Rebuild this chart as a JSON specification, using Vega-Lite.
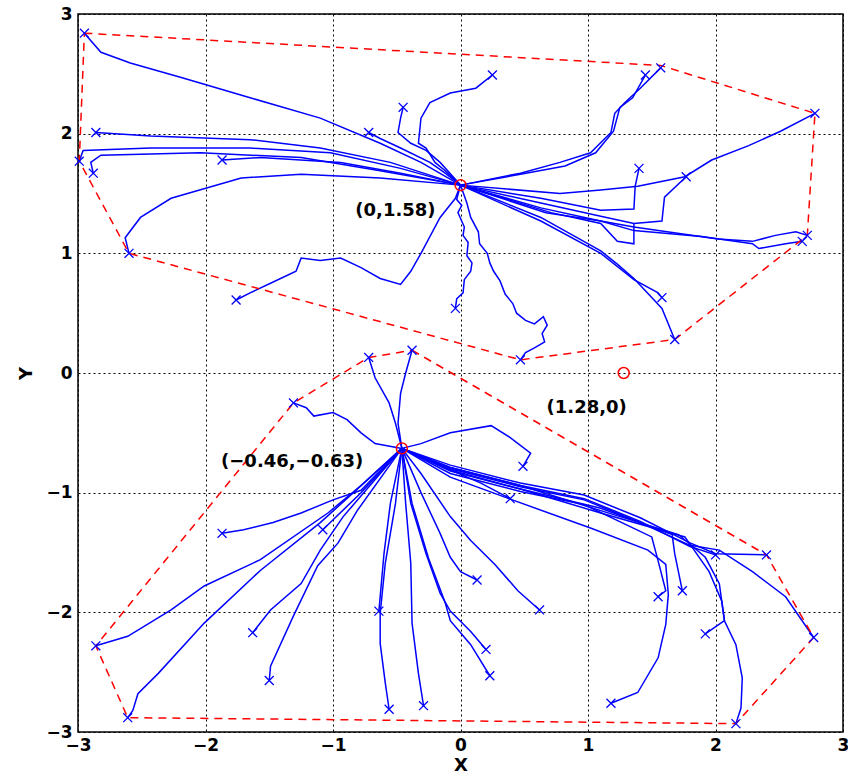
{
  "$schema": "https://vega.github.io/schema/vega-lite/v6.json",
  "autosize": "none",
  "width": 765,
  "height": 718,
  "padding": {"left": 78, "top": 14, "right": 5, "bottom": 50},
  "background": "white",
  "config": {
    "view": {"stroke": "black", "strokeWidth": 1.5},
    "axis": {
      "labelFont": "DejaVu Sans", "labelFontWeight": "bold", "labelFontSize": 17, "labelColor": "black",
      "titleFont": "DejaVu Sans", "titleFontWeight": "bold", "titleFontSize": 18, "titleColor": "black",
      "gridColor": "black", "gridDash": [2, 3], "gridOpacity": 1, "gridWidth": 1,
      "domain": false, "ticks": false
    }
  },
  "datasets": {
    "traj": [
      {"t":"a1","i":0,"x":0,"y":1.57},{"t":"a1","i":1,"x":-0.31,"y":1.76},{"t":"a1","i":2,"x":-0.63,"y":1.92},{"t":"a1","i":3,"x":-1.10,"y":2.13},{"t":"a1","i":4,"x":-1.65,"y":2.30},{"t":"a1","i":5,"x":-2.19,"y":2.47},{"t":"a1","i":6,"x":-2.59,"y":2.59},{"t":"a1","i":7,"x":-2.82,"y":2.68},{"t":"a1","i":8,"x":-2.95,"y":2.84},
      {"t":"a2","i":0,"x":0,"y":1.57},{"t":"a2","i":1,"x":-0.55,"y":1.76},{"t":"a2","i":2,"x":-1.10,"y":1.88},{"t":"a2","i":3,"x":-1.65,"y":1.95},{"t":"a2","i":4,"x":-2.43,"y":1.98},{"t":"a2","i":5,"x":-2.86,"y":2.01},
      {"t":"a3","i":0,"x":0,"y":1.57},{"t":"a3","i":1,"x":-0.47,"y":1.71},{"t":"a3","i":2,"x":-1.02,"y":1.84},{"t":"a3","i":3,"x":-1.65,"y":1.88},{"t":"a3","i":4,"x":-2.43,"y":1.88},{"t":"a3","i":5,"x":-2.96,"y":1.86},{"t":"a3","i":6,"x":-2.99,"y":1.77},
      {"t":"a4","i":0,"x":0,"y":1.57},{"t":"a4","i":1,"x":-0.63,"y":1.69},{"t":"a4","i":2,"x":-1.25,"y":1.80},{"t":"a4","i":3,"x":-2.04,"y":1.84},{"t":"a4","i":4,"x":-2.82,"y":1.82},{"t":"a4","i":5,"x":-2.90,"y":1.76},{"t":"a4","i":6,"x":-2.88,"y":1.67},
      {"t":"a5","i":0,"x":0,"y":1.57},{"t":"a5","i":1,"x":-0.63,"y":1.63},{"t":"a5","i":2,"x":-1.25,"y":1.66},{"t":"a5","i":3,"x":-1.72,"y":1.63},{"t":"a5","i":4,"x":-2.27,"y":1.46},{"t":"a5","i":5,"x":-2.51,"y":1.30},{"t":"a5","i":6,"x":-2.63,"y":1.13},{"t":"a5","i":7,"x":-2.60,"y":1.00},
      {"t":"a6","i":0,"x":0,"y":1.57},{"t":"a6","i":1,"x":-0.47,"y":1.67},{"t":"a6","i":2,"x":-0.94,"y":1.76},{"t":"a6","i":3,"x":-1.57,"y":1.80},{"t":"a6","i":4,"x":-1.87,"y":1.78},
      {"t":"a7","i":0,"x":0,"y":1.57},{"t":"a7","i":1,"x":-0.04,"y":1.46},{"t":"a7","i":2,"x":-0.16,"y":1.30},{"t":"a7","i":3,"x":-0.31,"y":1.00},{"t":"a7","i":4,"x":-0.39,"y":0.85},{"t":"a7","i":5,"x":-0.47,"y":0.74},{"t":"a7","i":6,"x":-0.63,"y":0.79},{"t":"a7","i":7,"x":-0.78,"y":0.88},{"t":"a7","i":8,"x":-0.94,"y":0.96},{"t":"a7","i":9,"x":-1.10,"y":0.94},{"t":"a7","i":10,"x":-1.25,"y":0.96},{"t":"a7","i":11,"x":-1.29,"y":0.85},{"t":"a7","i":12,"x":-1.49,"y":0.75},{"t":"a7","i":13,"x":-1.65,"y":0.67},{"t":"a7","i":14,"x":-1.76,"y":0.61},
      {"t":"a8","i":0,"x":0,"y":1.57},{"t":"a8","i":1,"x":-0.12,"y":1.67},{"t":"a8","i":2,"x":-0.24,"y":1.76},{"t":"a8","i":3,"x":-0.47,"y":1.88},{"t":"a8","i":4,"x":-0.63,"y":1.96},{"t":"a8","i":5,"x":-0.72,"y":2.01},
      {"t":"a9","i":0,"x":0,"y":1.57},{"t":"a9","i":1,"x":-0.16,"y":1.76},{"t":"a9","i":2,"x":-0.27,"y":1.86},{"t":"a9","i":3,"x":-0.39,"y":1.92},{"t":"a9","i":4,"x":-0.49,"y":2.01},{"t":"a9","i":5,"x":-0.47,"y":2.13},{"t":"a9","i":6,"x":-0.45,"y":2.22},
      {"t":"a10","i":0,"x":0,"y":1.57},{"t":"a10","i":1,"x":-0.12,"y":1.69},{"t":"a10","i":2,"x":-0.20,"y":1.76},{"t":"a10","i":3,"x":-0.27,"y":1.88},{"t":"a10","i":4,"x":-0.33,"y":1.92},{"t":"a10","i":5,"x":-0.31,"y":2.13},{"t":"a10","i":6,"x":-0.24,"y":2.26},{"t":"a10","i":7,"x":-0.08,"y":2.34},{"t":"a10","i":8,"x":0.12,"y":2.38},{"t":"a10","i":9,"x":0.25,"y":2.49},
      {"t":"a11","i":0,"x":0,"y":1.57},{"t":"a11","i":1,"x":-0.03,"y":1.45},{"t":"a11","i":2,"x":0.01,"y":1.40},{"t":"a11","i":3,"x":-0.02,"y":1.34},{"t":"a11","i":4,"x":0.03,"y":1.22},{"t":"a11","i":5,"x":0.02,"y":1.15},{"t":"a11","i":6,"x":0.06,"y":1.09},{"t":"a11","i":7,"x":0.05,"y":0.98},{"t":"a11","i":8,"x":0.09,"y":0.92},{"t":"a11","i":9,"x":0.08,"y":0.85},{"t":"a11","i":10,"x":0.03,"y":0.78},{"t":"a11","i":11,"x":0.02,"y":0.67},{"t":"a11","i":12,"x":-0.03,"y":0.62},{"t":"a11","i":13,"x":-0.04,"y":0.54},
      {"t":"a12","i":0,"x":0,"y":1.57},{"t":"a12","i":1,"x":0.05,"y":1.42},{"t":"a12","i":2,"x":0.08,"y":1.30},{"t":"a12","i":3,"x":0.14,"y":1.18},{"t":"a12","i":4,"x":0.15,"y":1.08},{"t":"a12","i":5,"x":0.21,"y":1.00},{"t":"a12","i":6,"x":0.23,"y":0.92},{"t":"a12","i":7,"x":0.26,"y":0.85},{"t":"a12","i":8,"x":0.31,"y":0.77},{"t":"a12","i":9,"x":0.35,"y":0.66},{"t":"a12","i":10,"x":0.41,"y":0.58},{"t":"a12","i":11,"x":0.44,"y":0.50},{"t":"a12","i":12,"x":0.51,"y":0.44},{"t":"a12","i":13,"x":0.58,"y":0.41},{"t":"a12","i":14,"x":0.65,"y":0.47},{"t":"a12","i":15,"x":0.68,"y":0.40},{"t":"a12","i":16,"x":0.64,"y":0.33},{"t":"a12","i":17,"x":0.66,"y":0.26},{"t":"a12","i":18,"x":0.58,"y":0.21},{"t":"a12","i":19,"x":0.51,"y":0.17},{"t":"a12","i":20,"x":0.47,"y":0.11},
      {"t":"a13","i":0,"x":0,"y":1.57},{"t":"a13","i":1,"x":0.47,"y":1.67},{"t":"a13","i":2,"x":0.78,"y":1.76},{"t":"a13","i":3,"x":1.02,"y":1.84},{"t":"a13","i":4,"x":1.18,"y":2.01},{"t":"a13","i":5,"x":1.21,"y":2.17},{"t":"a13","i":6,"x":1.29,"y":2.26},{"t":"a13","i":7,"x":1.41,"y":2.38},{"t":"a13","i":8,"x":1.57,"y":2.55},
      {"t":"a14","i":0,"x":0,"y":1.57},{"t":"a14","i":1,"x":0.47,"y":1.66},{"t":"a14","i":2,"x":0.82,"y":1.73},{"t":"a14","i":3,"x":1.06,"y":1.84},{"t":"a14","i":4,"x":1.20,"y":2.02},{"t":"a14","i":5,"x":1.25,"y":2.22},{"t":"a14","i":6,"x":1.35,"y":2.30},{"t":"a14","i":7,"x":1.45,"y":2.49},
      {"t":"a15","i":0,"x":0,"y":1.57},{"t":"a15","i":1,"x":0.78,"y":1.50},{"t":"a15","i":2,"x":1.10,"y":1.53},{"t":"a15","i":3,"x":1.39,"y":1.56},{"t":"a15","i":4,"x":1.76,"y":1.64},{"t":"a15","i":5,"x":1.97,"y":1.78},{"t":"a15","i":6,"x":2.26,"y":1.90},{"t":"a15","i":7,"x":2.51,"y":2.02},{"t":"a15","i":8,"x":2.78,"y":2.17},
      {"t":"a16","i":0,"x":0,"y":1.57},{"t":"a16","i":1,"x":0.63,"y":1.46},{"t":"a16","i":2,"x":1.10,"y":1.36},{"t":"a16","i":3,"x":1.36,"y":1.37},{"t":"a16","i":4,"x":1.37,"y":1.56},{"t":"a16","i":5,"x":1.40,"y":1.71},
      {"t":"a17","i":0,"x":0,"y":1.57},{"t":"a17","i":1,"x":0.63,"y":1.42},{"t":"a17","i":2,"x":1.10,"y":1.31},{"t":"a17","i":3,"x":1.36,"y":1.25},{"t":"a17","i":4,"x":1.58,"y":1.27},{"t":"a17","i":5,"x":1.60,"y":1.47},{"t":"a17","i":6,"x":1.77,"y":1.64},
      {"t":"a18","i":0,"x":0,"y":1.57},{"t":"a18","i":1,"x":0.63,"y":1.38},{"t":"a18","i":2,"x":1.10,"y":1.27},{"t":"a18","i":3,"x":1.36,"y":1.22},{"t":"a18","i":4,"x":1.62,"y":1.18},{"t":"a18","i":5,"x":2.02,"y":1.12},{"t":"a18","i":6,"x":2.29,"y":1.10},{"t":"a18","i":7,"x":2.47,"y":1.15},{"t":"a18","i":8,"x":2.63,"y":1.18},{"t":"a18","i":9,"x":2.72,"y":1.15},
      {"t":"a19","i":0,"x":0,"y":1.57},{"t":"a19","i":1,"x":0.67,"y":1.34},{"t":"a19","i":2,"x":1.10,"y":1.27},{"t":"a19","i":3,"x":1.36,"y":1.19},{"t":"a19","i":4,"x":1.89,"y":1.14},{"t":"a19","i":5,"x":2.29,"y":1.08},{"t":"a19","i":6,"x":2.34,"y":1.04},{"t":"a19","i":7,"x":2.55,"y":1.08},{"t":"a19","i":8,"x":2.68,"y":1.10},
      {"t":"a20","i":0,"x":0,"y":1.57},{"t":"a20","i":1,"x":0.71,"y":1.34},{"t":"a20","i":2,"x":1.10,"y":1.25},{"t":"a20","i":3,"x":1.23,"y":1.10},{"t":"a20","i":4,"x":1.36,"y":1.08},{"t":"a20","i":5,"x":1.36,"y":1.25},
      {"t":"a21","i":0,"x":0,"y":1.57},{"t":"a21","i":1,"x":0.63,"y":1.30},{"t":"a21","i":2,"x":1.10,"y":1.02},{"t":"a21","i":3,"x":1.23,"y":0.91},{"t":"a21","i":4,"x":1.36,"y":0.79},{"t":"a21","i":5,"x":1.50,"y":0.63},{"t":"a21","i":6,"x":1.58,"y":0.54},{"t":"a21","i":7,"x":1.68,"y":0.28},
      {"t":"a22","i":0,"x":0,"y":1.57},{"t":"a22","i":1,"x":0.63,"y":1.27},{"t":"a22","i":2,"x":1.10,"y":1.00},{"t":"a22","i":3,"x":1.36,"y":0.78},{"t":"a22","i":4,"x":1.55,"y":0.67},{"t":"a22","i":5,"x":1.58,"y":0.63},
      {"t":"b1","i":0,"x":-0.46,"y":-0.63},{"t":"b1","i":1,"x":-0.49,"y":-0.42},{"t":"b1","i":2,"x":-0.47,"y":-0.17},{"t":"b1","i":3,"x":-0.43,"y":0},{"t":"b1","i":4,"x":-0.38,"y":0.19},
      {"t":"b2","i":0,"x":-0.46,"y":-0.63},{"t":"b2","i":1,"x":-0.51,"y":-0.42},{"t":"b2","i":2,"x":-0.56,"y":-0.25},{"t":"b2","i":3,"x":-0.67,"y":-0.04},{"t":"b2","i":4,"x":-0.72,"y":0.13},
      {"t":"b3","i":0,"x":-0.46,"y":-0.63},{"t":"b3","i":1,"x":-0.67,"y":-0.59},{"t":"b3","i":2,"x":-0.78,"y":-0.50},{"t":"b3","i":3,"x":-0.89,"y":-0.39},{"t":"b3","i":4,"x":-1.00,"y":-0.33},{"t":"b3","i":5,"x":-1.15,"y":-0.36},{"t":"b3","i":6,"x":-1.21,"y":-0.29},{"t":"b3","i":7,"x":-1.31,"y":-0.25},
      {"t":"b4","i":0,"x":-0.46,"y":-0.63},{"t":"b4","i":1,"x":-0.31,"y":-0.59},{"t":"b4","i":2,"x":-0.08,"y":-0.50},{"t":"b4","i":3,"x":0.24,"y":-0.44},{"t":"b4","i":4,"x":0.39,"y":-0.54},{"t":"b4","i":5,"x":0.55,"y":-0.67},{"t":"b4","i":6,"x":0.49,"y":-0.78},
      {"t":"b5","i":0,"x":-0.46,"y":-0.63},{"t":"b5","i":1,"x":-0.08,"y":-0.81},{"t":"b5","i":2,"x":0.16,"y":-0.92},{"t":"b5","i":3,"x":0.39,"y":-1.05},
      {"t":"b6","i":0,"x":-0.46,"y":-0.63},{"t":"b6","i":1,"x":-0.31,"y":-1.00},{"t":"b6","i":2,"x":-0.16,"y":-1.34},{"t":"b6","i":3,"x":-0.08,"y":-1.54},{"t":"b6","i":4,"x":0,"y":-1.66},{"t":"b6","i":5,"x":0.13,"y":-1.73},
      {"t":"b7","i":0,"x":-0.46,"y":-0.63},{"t":"b7","i":1,"x":-0.31,"y":-0.84},{"t":"b7","i":2,"x":-0.08,"y":-1.20},{"t":"b7","i":3,"x":0.08,"y":-1.40},{"t":"b7","i":4,"x":0.27,"y":-1.60},{"t":"b7","i":5,"x":0.45,"y":-1.82},{"t":"b7","i":6,"x":0.62,"y":-1.98},
      {"t":"b8","i":0,"x":-0.46,"y":-0.63},{"t":"b8","i":1,"x":-0.39,"y":-1.09},{"t":"b8","i":2,"x":-0.27,"y":-1.51},{"t":"b8","i":3,"x":-0.16,"y":-1.84},{"t":"b8","i":4,"x":-0.08,"y":-1.99},{"t":"b8","i":5,"x":0.08,"y":-2.16},{"t":"b8","i":6,"x":0.20,"y":-2.31},
      {"t":"b9","i":0,"x":-0.46,"y":-0.63},{"t":"b9","i":1,"x":-0.38,"y":-1.09},{"t":"b9","i":2,"x":-0.25,"y":-1.55},{"t":"b9","i":3,"x":-0.12,"y":-1.92},{"t":"b9","i":4,"x":-0.08,"y":-2.07},{"t":"b9","i":5,"x":0.08,"y":-2.27},{"t":"b9","i":6,"x":0.23,"y":-2.53},
      {"t":"b10","i":0,"x":-0.46,"y":-0.63},{"t":"b10","i":1,"x":-0.55,"y":-1.09},{"t":"b10","i":2,"x":-0.60,"y":-1.51},{"t":"b10","i":3,"x":-0.64,"y":-1.99},
      {"t":"b11","i":0,"x":-0.46,"y":-0.63},{"t":"b11","i":1,"x":-0.51,"y":-1.09},{"t":"b11","i":2,"x":-0.59,"y":-1.59},{"t":"b11","i":3,"x":-0.63,"y":-2.01},{"t":"b11","i":4,"x":-0.63,"y":-2.26},{"t":"b11","i":5,"x":-0.59,"y":-2.59},{"t":"b11","i":6,"x":-0.56,"y":-2.81},
      {"t":"b12","i":0,"x":-0.46,"y":-0.63},{"t":"b12","i":1,"x":-0.43,"y":-1.09},{"t":"b12","i":2,"x":-0.39,"y":-1.59},{"t":"b12","i":3,"x":-0.38,"y":-2.09},{"t":"b12","i":4,"x":-0.33,"y":-2.51},{"t":"b12","i":5,"x":-0.29,"y":-2.78},
      {"t":"b13","i":0,"x":-0.46,"y":-0.63},{"t":"b13","i":1,"x":-0.78,"y":-0.98},{"t":"b13","i":2,"x":-1.00,"y":-1.06},{"t":"b13","i":3,"x":-1.25,"y":-1.17},{"t":"b13","i":4,"x":-1.47,"y":-1.25},{"t":"b13","i":5,"x":-1.70,"y":-1.31},{"t":"b13","i":6,"x":-1.87,"y":-1.34},
      {"t":"b14","i":0,"x":-0.46,"y":-0.63},{"t":"b14","i":1,"x":-0.78,"y":-1.00},{"t":"b14","i":2,"x":-1.08,"y":-1.31},
      {"t":"b15","i":0,"x":-0.46,"y":-0.63},{"t":"b15","i":1,"x":-0.78,"y":-0.94},{"t":"b15","i":2,"x":-1.04,"y":-1.17},{"t":"b15","i":3,"x":-1.57,"y":-1.56},{"t":"b15","i":4,"x":-2.01,"y":-1.78},{"t":"b15","i":5,"x":-2.27,"y":-1.98},{"t":"b15","i":6,"x":-2.61,"y":-2.20},{"t":"b15","i":7,"x":-2.86,"y":-2.28},
      {"t":"b16","i":0,"x":-0.46,"y":-0.63},{"t":"b16","i":1,"x":-0.84,"y":-1.00},{"t":"b16","i":2,"x":-1.10,"y":-1.25},{"t":"b16","i":3,"x":-1.57,"y":-1.65},{"t":"b16","i":4,"x":-2.01,"y":-2.09},{"t":"b16","i":5,"x":-2.37,"y":-2.51},{"t":"b16","i":6,"x":-2.53,"y":-2.68},{"t":"b16","i":7,"x":-2.57,"y":-2.82},{"t":"b16","i":8,"x":-2.61,"y":-2.88},
      {"t":"b17","i":0,"x":-0.46,"y":-0.63},{"t":"b17","i":1,"x":-0.92,"y":-1.20},{"t":"b17","i":2,"x":-1.10,"y":-1.48},{"t":"b17","i":3,"x":-1.25,"y":-1.76},{"t":"b17","i":4,"x":-1.49,"y":-1.98},{"t":"b17","i":5,"x":-1.63,"y":-2.17},
      {"t":"b18","i":0,"x":-0.46,"y":-0.63},{"t":"b18","i":1,"x":-0.81,"y":-1.15},{"t":"b18","i":2,"x":-0.96,"y":-1.42},{"t":"b18","i":3,"x":-1.12,"y":-1.61},{"t":"b18","i":4,"x":-1.31,"y":-2.03},{"t":"b18","i":5,"x":-1.49,"y":-2.45},{"t":"b18","i":6,"x":-1.50,"y":-2.57},
      {"t":"b19","i":0,"x":-0.46,"y":-0.63},{"t":"b19","i":1,"x":-0.08,"y":-0.77},{"t":"b19","i":2,"x":0.47,"y":-0.92},{"t":"b19","i":3,"x":0.97,"y":-1.02},{"t":"b19","i":4,"x":1.41,"y":-1.21},{"t":"b19","i":5,"x":1.80,"y":-1.42},{"t":"b19","i":6,"x":2.00,"y":-1.51},{"t":"b19","i":7,"x":2.40,"y":-1.52},
      {"t":"b20","i":0,"x":-0.46,"y":-0.63},{"t":"b20","i":1,"x":-0.08,"y":-0.79},{"t":"b20","i":2,"x":0.47,"y":-0.94},{"t":"b20","i":3,"x":0.97,"y":-1.05},{"t":"b20","i":4,"x":1.41,"y":-1.24},{"t":"b20","i":5,"x":1.80,"y":-1.45},{"t":"b20","i":6,"x":2.00,"y":-1.52},
      {"t":"b21","i":0,"x":-0.46,"y":-0.63},{"t":"b21","i":1,"x":-0.08,"y":-0.80},{"t":"b21","i":2,"x":0.47,"y":-0.95},{"t":"b21","i":3,"x":0.97,"y":-1.06},{"t":"b21","i":4,"x":1.41,"y":-1.25},{"t":"b21","i":5,"x":1.80,"y":-1.44},{"t":"b21","i":6,"x":2.03,"y":-1.48},{"t":"b21","i":7,"x":2.29,"y":-1.66},{"t":"b21","i":8,"x":2.55,"y":-1.87},{"t":"b21","i":9,"x":2.77,"y":-2.21},
      {"t":"b22","i":0,"x":-0.46,"y":-0.63},{"t":"b22","i":1,"x":-0.08,"y":-0.87},{"t":"b22","i":2,"x":0.38,"y":-1.05},{"t":"b22","i":3,"x":1.03,"y":-1.30},{"t":"b22","i":4,"x":1.47,"y":-1.48},{"t":"b22","i":5,"x":1.61,"y":-1.60},{"t":"b22","i":6,"x":1.63,"y":-1.85},{"t":"b22","i":7,"x":1.61,"y":-2.10},{"t":"b22","i":8,"x":1.55,"y":-2.38},{"t":"b22","i":9,"x":1.39,"y":-2.67},{"t":"b22","i":10,"x":1.18,"y":-2.76},
      {"t":"b23","i":0,"x":-0.46,"y":-0.63},{"t":"b23","i":1,"x":-0.08,"y":-0.84},{"t":"b23","i":2,"x":0.47,"y":-0.99},{"t":"b23","i":3,"x":0.97,"y":-1.10},{"t":"b23","i":4,"x":1.50,"y":-1.37},{"t":"b23","i":5,"x":1.55,"y":-1.57},{"t":"b23","i":6,"x":1.61,"y":-1.82},{"t":"b23","i":7,"x":1.55,"y":-1.87},
      {"t":"b24","i":0,"x":-0.46,"y":-0.63},{"t":"b24","i":1,"x":-0.08,"y":-0.82},{"t":"b24","i":2,"x":0.47,"y":-0.97},{"t":"b24","i":3,"x":1.10,"y":-1.13},{"t":"b24","i":4,"x":1.66,"y":-1.35},{"t":"b24","i":5,"x":1.68,"y":-1.51},{"t":"b24","i":6,"x":1.74,"y":-1.82},
      {"t":"b25","i":0,"x":-0.46,"y":-0.63},{"t":"b25","i":1,"x":-0.08,"y":-0.79},{"t":"b25","i":2,"x":0.47,"y":-0.94},{"t":"b25","i":3,"x":1.10,"y":-1.15},{"t":"b25","i":4,"x":1.71,"y":-1.35},{"t":"b25","i":5,"x":1.92,"y":-1.54},{"t":"b25","i":6,"x":2.03,"y":-1.76},{"t":"b25","i":7,"x":2.07,"y":-2.07},{"t":"b25","i":8,"x":2.16,"y":-2.27},{"t":"b25","i":9,"x":2.21,"y":-2.55},{"t":"b25","i":10,"x":2.20,"y":-2.80},{"t":"b25","i":11,"x":2.16,"y":-2.93},
      {"t":"b26","i":0,"x":-0.46,"y":-0.63},{"t":"b26","i":1,"x":-0.08,"y":-0.81},{"t":"b26","i":2,"x":0.47,"y":-0.97},{"t":"b26","i":3,"x":1.10,"y":-1.17},{"t":"b26","i":4,"x":1.76,"y":-1.37},{"t":"b26","i":5,"x":1.95,"y":-1.66},{"t":"b26","i":6,"x":2.05,"y":-1.91},{"t":"b26","i":7,"x":2.07,"y":-2.07},{"t":"b26","i":8,"x":1.92,"y":-2.18}
    ],
    "ends": [
      {"x":-2.95,"y":2.84},{"x":-2.86,"y":2.01},{"x":-2.99,"y":1.77},{"x":-2.88,"y":1.67},{"x":-2.60,"y":1.00},{"x":-1.87,"y":1.78},{"x":-1.76,"y":0.61},{"x":-0.72,"y":2.01},{"x":-0.45,"y":2.22},{"x":0.25,"y":2.49},{"x":-0.04,"y":0.54},{"x":0.47,"y":0.11},{"x":1.57,"y":2.55},{"x":1.45,"y":2.49},{"x":2.78,"y":2.17},{"x":1.40,"y":1.71},{"x":1.77,"y":1.64},{"x":2.72,"y":1.15},{"x":2.68,"y":1.10},{"x":1.68,"y":0.28},{"x":1.58,"y":0.63},
      {"x":-0.38,"y":0.19},{"x":-0.72,"y":0.13},{"x":-1.31,"y":-0.25},{"x":0.49,"y":-0.78},{"x":0.39,"y":-1.05},{"x":0.13,"y":-1.73},{"x":0.62,"y":-1.98},{"x":0.20,"y":-2.31},{"x":0.23,"y":-2.53},{"x":-0.64,"y":-1.99},{"x":-0.56,"y":-2.81},{"x":-0.29,"y":-2.78},{"x":-1.87,"y":-1.34},{"x":-1.08,"y":-1.31},{"x":-2.86,"y":-2.28},{"x":-2.61,"y":-2.88},{"x":-1.63,"y":-2.17},{"x":-1.50,"y":-2.57},{"x":2.40,"y":-1.52},{"x":2.00,"y":-1.52},{"x":2.77,"y":-2.21},{"x":1.18,"y":-2.76},{"x":1.55,"y":-1.87},{"x":1.74,"y":-1.82},{"x":2.16,"y":-2.93},{"x":1.92,"y":-2.18}
    ],
    "hull": [
      {"g":"A","i":0,"x":-2.95,"y":2.84},{"g":"A","i":1,"x":1.57,"y":2.57},{"g":"A","i":2,"x":2.78,"y":2.17},{"g":"A","i":3,"x":2.72,"y":1.15},{"g":"A","i":4,"x":1.68,"y":0.28},{"g":"A","i":5,"x":0.47,"y":0.11},{"g":"A","i":6,"x":-2.60,"y":1.00},{"g":"A","i":7,"x":-2.99,"y":1.77},{"g":"A","i":8,"x":-2.95,"y":2.84},
      {"g":"B","i":0,"x":-0.38,"y":0.19},{"g":"B","i":1,"x":2.40,"y":-1.52},{"g":"B","i":2,"x":2.77,"y":-2.21},{"g":"B","i":3,"x":2.16,"y":-2.93},{"g":"B","i":4,"x":-2.61,"y":-2.88},{"g":"B","i":5,"x":-2.86,"y":-2.28},{"g":"B","i":6,"x":-1.31,"y":-0.25},{"g":"B","i":7,"x":-0.72,"y":0.13},{"g":"B","i":8,"x":-0.38,"y":0.19}
    ],
    "centers": [
      {"x":0,"y":1.57},{"x":-0.46,"y":-0.63},{"x":1.28,"y":0}
    ],
    "labels": [
      {"label":"(0,1.58)","x":-0.51,"y":1.35},
      {"label":"(−0.46,−0.63)","x":-1.32,"y":-0.74},
      {"label":"(1.28,0)","x":0.99,"y":-0.29}
    ]
  },
  "encoding": {
    "x": {"field": "x", "type": "quantitative", "scale": {"domain": [-3, 3], "nice": false, "zero": false},
          "axis": {"values": [-3, -2, -1, 0, 1, 2, 3], "title": "X", "labelPadding": 5, "titlePadding": 3, "labelFlush": false}},
    "y": {"field": "y", "type": "quantitative", "scale": {"domain": [-3, 3], "nice": false, "zero": false},
          "axis": {"values": [-3, -2, -1, 0, 1, 2, 3], "title": "Y", "labelPadding": 6, "titlePadding": 10, "labelFlush": false}}
  },
  "layer": [
    {
      "data": {"name": "traj"},
      "mark": {"type": "line", "color": "#0000ff", "strokeWidth": 1.5},
      "encoding": {"detail": {"field": "t"}, "order": {"field": "i", "type": "quantitative"}}
    },
    {
      "data": {"name": "hull"},
      "mark": {"type": "line", "color": "#ff0000", "strokeWidth": 1.5, "strokeDash": [8, 6]},
      "encoding": {"detail": {"field": "g"}, "order": {"field": "i", "type": "quantitative"}}
    },
    {
      "data": {"name": "ends"},
      "mark": {"type": "point", "shape": "M-1,-1L1,1M-1,1L1,-1", "filled": false, "color": "#0000ff", "strokeWidth": 1.3, "size": 80, "opacity": 1}
    },
    {
      "data": {"name": "centers"},
      "mark": {"type": "point", "shape": "circle", "filled": false, "color": "#ff0000", "strokeWidth": 1.5, "size": 120, "opacity": 1}
    },
    {
      "data": {"name": "labels"},
      "mark": {"type": "text", "font": "DejaVu Sans", "fontWeight": "bold", "fontSize": 18, "color": "black", "align": "center", "baseline": "middle"},
      "encoding": {"text": {"field": "label"}}
    }
  ]
}
